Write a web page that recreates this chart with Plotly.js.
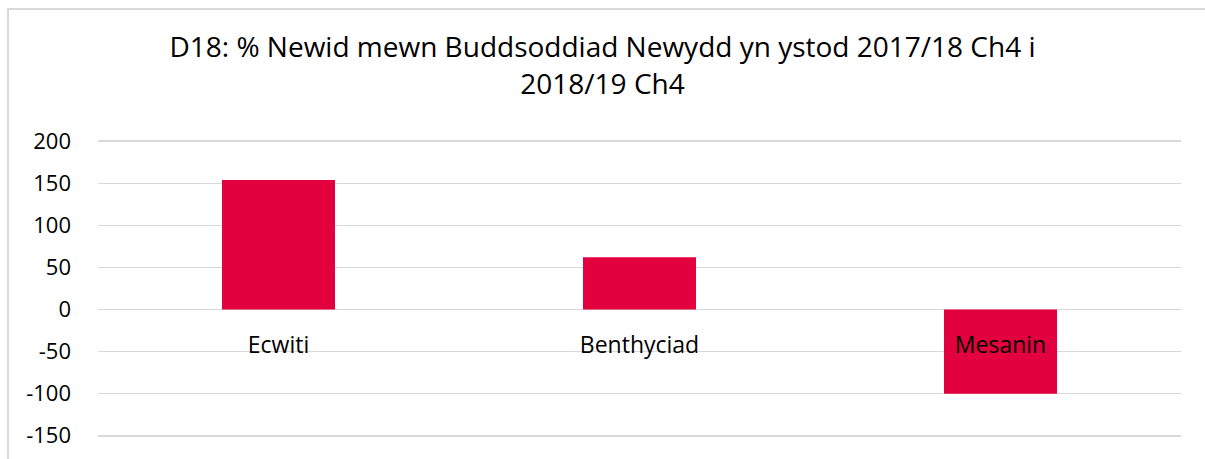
<!DOCTYPE html>
<html><head><meta charset="utf-8">
<script src="https://cdn.plot.ly/plotly-3.0.1.min.js"></script>
<style>
html,body{margin:0;padding:0;background:#fff;overflow:hidden;}
#chart{width:1205px;height:459px;}
#frame{position:absolute;left:7px;top:8px;width:1210px;height:470px;border-top:2px solid #d9d9d9;border-left:2px solid #d9d9d9;pointer-events:none;}
</style></head>
<body>
<div id="chart"></div>
<div id="frame"></div>
<script>
const categories = ["Ecwiti", "Benthyciad", "Mesanin"];
const values = [154, 62, -100];
const yTicks = [-150, -100, -50, 0, 50, 100, 150, 200];
const titleText = "D18: % Newid mewn Buddsoddiad Newydd yn ystod 2017/18 Ch4 i<br>2018/19 Ch4";

const font = "Open Sans, Liberation Sans, sans-serif";
const yMin = -155, yMax = 205;

Plotly.newPlot("chart", [{
  type: "bar",
  x: categories,
  y: values,
  marker: {color: "#e3003e"},
  hoverinfo: "x+y"
}], {
  width: 1205, height: 459,
  margin: {l: 98, r: 24, t: 137, b: 19},
  paper_bgcolor: "#fff", plot_bgcolor: "#fff",
  bargap: 0.687,
  showlegend: false,
  title: {text: titleText, font: {family: font, size: 28, color: "#000"}, x: 0.5, xanchor: "center", y: 0.875, yanchor: "top"},
  xaxis: {
    type: "category",
    anchor: "free",
    position: (0 - yMin) / (yMax - yMin),
    showline: false, showgrid: false, zeroline: false,
    ticks: "outside", ticklen: 15, tickcolor: "rgba(0,0,0,0)",
    tickfont: {family: font, size: 23, color: "#000"},
    layer: "above traces"
  },
  yaxis: {
    range: [yMin, yMax],
    tickvals: yTicks,
    ticktext: yTicks.map(String),
    showgrid: true, gridcolor: "#d9d9d9", gridwidth: 1.5,
    zeroline: false, showline: false,
    ticks: "", ticklabelstandoff: 26,
    tickfont: {family: font, size: 22, color: "#000"}
  }
}, {displayModeBar: false, staticPlot: true});
</script>
</body></html>
